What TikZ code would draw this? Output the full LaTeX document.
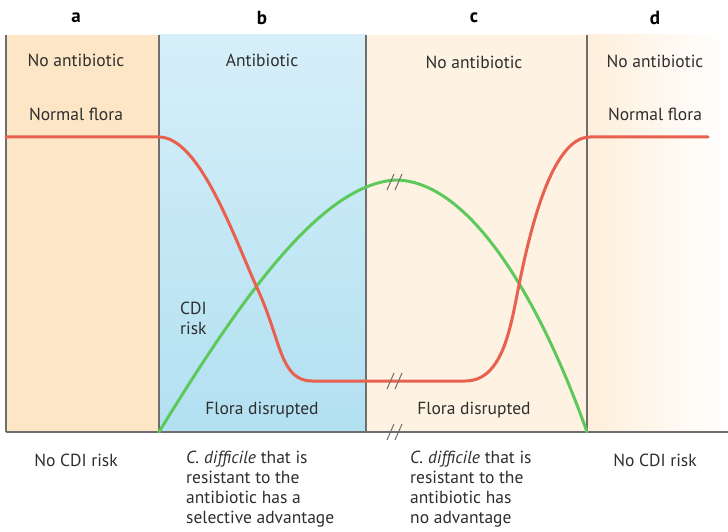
\documentclass[tikz,border=0pt]{standalone}
\usepackage{fontspec}
\setmainfont{PT Sans}
\definecolor{panelA}{HTML}{FDE6C6}
\definecolor{panelBtop}{HTML}{D6EFF9}
\definecolor{panelBbot}{HTML}{B2E0F1}
\definecolor{panelC}{HTML}{FEF2E2}
\definecolor{panelD}{HTML}{FEEFDB}
\definecolor{frame}{HTML}{6E6E6E}
\definecolor{txt}{HTML}{2E2E2E}
\definecolor{redc}{HTML}{E9604F}
\definecolor{greenc}{HTML}{5DC95B}
\begin{document}
\begin{tikzpicture}[x=1pt,y=-1pt,
  lab/.style={text=txt,font=\fontsize{17.5}{20}\selectfont,inner sep=0pt},
  head/.style={text=black,font=\fontsize{19}{20}\selectfont\bfseries,inner sep=0pt},
  framel/.style={draw=frame,line width=1.4pt},
  curvel/.style={line width=3pt,line cap=round},
  brk/.style={draw=frame,line width=1pt}]
\useasboundingbox (0,0) rectangle (728,532);
% panels
\fill[panelA] (6,35) rectangle (159,432);
\shade[top color=panelBtop,bottom color=panelBbot] (159,35) rectangle (366,432);
\fill[panelC] (366,35) rectangle (587,432);
\shade[left color=panelD,right color=white] (587,35) rectangle (728,432);
% frame
\draw[framel] (6,35) -- (6,432);
\draw[framel] (159,35) -- (159,432);
\draw[framel] (366,35) -- (366,432);
\draw[framel] (587,35) -- (587,432);
\draw[framel] (6,432) -- (728,432);
% green curve
\draw[curvel,greenc] (159,432) .. controls (240,300) and (320,185) .. (395,180)
  .. controls (470,180) and (540,300) .. (587,432);
% red curve
\draw[curvel,redc] (6,137) -- (159,137)
  .. controls (200,137) and (235,240) .. (258,290)
  .. controls (281,340) and (280,381) .. (312,381)
  -- (465,381)
  .. controls (502,381) and (510,330) .. (518,290)
  .. controls (528,240) and (550,137) .. (590,137) -- (708,137);
% break marks
\foreach \yy in {182,381,432}{
  \draw[brk] (387,\yy+8) -- (394,\yy-8);
  \draw[brk] (395,\yy+8) -- (402,\yy-8);
}
% headings
\node[head] (ha) at (76,18) {a};
\node[head] (hb) at (262,18) {b};
\node[head] (hc) at (474,18) {c};
\node[head] (hd) at (655,18) {d};
% top labels
\node[lab] (ta) at (76,60) {No antibiotic};
\node[lab] (tb) at (262,60) {Antibiotic};
\node[lab] (tc) at (474,62) {No antibiotic};
\node[lab] (td) at (655,61) {No antibiotic};
\node[lab] (na) at (76,114) {Normal flora};
\node[lab] (nd) at (655,114) {Normal flora};
\node[lab,anchor=north west,align=left] (cdi) at (180,302) {CDI\\risk};
\node[lab] (fb) at (262,410) {Flora disrupted};
\node[lab] (fc) at (474,410) {Flora disrupted};
% bottom
\node[lab] (ba) at (76,460) {No CDI risk};
\node[lab,anchor=north west,align=left] (bb) at (186,451)
  {\textit{C. difficile} that is\\resistant to the\\antibiotic has a\\selective advantage};
\node[lab,anchor=north west,align=left] (bc) at (410,451)
  {\textit{C. difficile} that is\\resistant to the\\antibiotic has\\no advantage};
\node[lab] (bd) at (655,460) {No CDI risk};
\end{tikzpicture}
\end{document}
